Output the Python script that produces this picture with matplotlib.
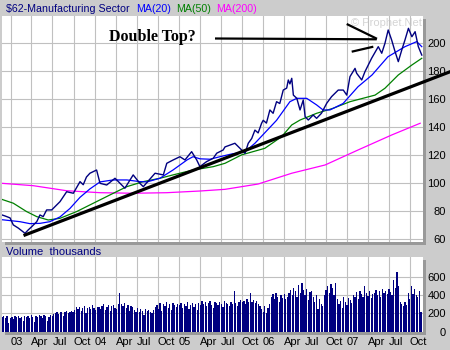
import matplotlib
matplotlib.use('Agg')
import matplotlib.pyplot as plt
import pandas as pd
from matplotlib.patches import Rectangle
from matplotlib.lines import Line2D

plt.rcParams['font.family'] = ['Liberation Sans', 'DejaVu Sans']

# weekly closes of the sector index, sampled at the swing points
price_dates = ['2002-11-24', '2002-12-07', '2002-12-29',
               '2003-01-12', '2003-02-03', '2003-03-04', '2003-03-18', '2003-04-02', '2003-04-24', '2003-05-08',
               '2003-05-22', '2003-06-06', '2003-06-28', '2003-07-12', '2003-08-03', '2003-09-01', '2003-09-30',
               '2003-10-29', '2003-11-12', '2003-11-26', '2003-12-11',
               '2004-01-09', '2004-01-24', '2004-02-22', '2004-03-29', '2004-04-20', '2004-05-11', '2004-06-16',
               '2004-07-15', '2004-07-30', '2004-09-19', '2004-10-25', '2004-11-09', '2004-12-07',
               '2005-01-05', '2005-01-27', '2005-02-25', '2005-03-19', '2005-04-02', '2005-05-01', '2005-05-30',
               '2005-06-14', '2005-07-12', '2005-07-20', '2005-09-01', '2005-09-23', '2005-10-15', '2005-10-29',
               '2005-11-13', '2005-11-27', '2005-12-11', '2005-12-26',
               '2006-01-02', '2006-01-16', '2006-01-31', '2006-02-14', '2006-03-01', '2006-03-15', '2006-03-30',
               '2006-04-14', '2006-04-21', '2006-04-28', '2006-05-06', '2006-05-13',
               '2006-05-28', '2006-06-11', '2006-06-25', '2006-07-03', '2006-07-17', '2006-08-07', '2006-08-22',
               '2006-09-12', '2006-10-05', '2006-10-26', '2006-11-24', '2006-12-16', '2006-12-31',
               '2007-01-14', '2007-02-05', '2007-02-12', '2007-03-06', '2007-03-20', '2007-04-18', '2007-05-17',
               '2007-06-01', '2007-06-15', '2007-06-29', '2007-07-14', '2007-07-29', '2007-08-12', '2007-08-27',
               '2007-09-10', '2007-09-25', '2007-10-10', '2007-10-24', '2007-11-07', '2007-11-22']
price = [77.4, 76.7, 75.3,
         70.3, 68.0, 64.3, 66.7, 69.0, 72.6, 77.4, 76.2, 81.0, 81.0, 83.3, 86.9, 94.0, 92.9, 101.2, 99.0,
         104.5, 107.2,
         109.5, 100.0, 98.8, 103.6, 100.0, 96.5, 106.0, 100.0, 97.6, 107.2, 106.0, 114.3, 116.7,
         119.0, 116.7, 122.6, 116.7, 111.9, 115.5, 117.9, 121.5, 123.8, 126.0, 128.6, 125.0, 121.4, 128.6,
         132.0, 138.0, 136.0, 142.9,
         145.0, 143.0, 152.4, 150.0, 158.3, 157.0, 166.6, 168.0, 173.8, 171.0,
         175.0, 163.0, 160.7, 152.4, 159.5, 147.6, 145.2, 148.8, 146.4,
         150.0, 157.2, 161.9, 166.6, 166.6, 163.0,
         176.2, 182.1, 178.6, 173.8, 179.7, 189.3, 197.6, 192.9, 200.0, 209.5, 202.4, 194.0, 186.9, 195.2,
         202.4, 210.7, 204.7, 208.3, 197.6, 191.6]

ma20_dates = ['2002-11-24', '2003-02-10', '2003-03-25', '2003-05-08', '2003-06-20', '2003-08-03', '2003-09-15',
              '2003-10-29', '2003-12-11', '2004-01-24', '2004-03-20', '2004-05-20', '2004-07-15', '2004-08-15',
              '2004-10-10', '2004-12-06', '2005-02-05', '2005-03-03', '2005-04-02', '2005-05-16', '2005-06-28',
              '2005-08-19', '2005-10-15', '2005-11-27', '2006-03-01', '2006-04-28', '2006-05-28', '2006-07-10',
              '2006-08-22', '2006-09-19', '2006-10-19', '2006-12-15', '2007-02-18', '2007-04-20', '2007-06-28',
              '2007-09-10', '2007-10-31', '2007-11-22']
ma20 = [74.0, 72.6, 71.2, 71.4, 72.6, 76.0, 82.0, 90.0, 96.0, 101.0, 102.4, 102.4, 101.2, 101.0, 103.6, 109.5,
        116.7, 119.0, 117.5, 117.2, 119.0, 121.0, 122.6, 128.6, 145.0, 158.3, 160.7, 160.7, 156.0, 152.4, 152.4,
        157.0, 169.0, 177.4, 190.4, 197.6, 201.2, 197.6]

ma50_dates = ['2002-11-24', '2003-01-12', '2003-03-11', '2003-04-24', '2003-06-13', '2003-08-03', '2003-10-14',
              '2003-12-26', '2004-03-07', '2004-05-19', '2004-07-30', '2004-10-10', '2004-12-06', '2005-03-03',
              '2005-05-30', '2005-07-20', '2005-09-30', '2006-01-09', '2006-03-23', '2006-05-06', '2006-06-11',
              '2006-08-22', '2006-11-02', '2007-01-14', '2007-03-27', '2007-05-03', '2007-06-15', '2007-08-12',
              '2007-10-10', '2007-11-22']
ma50 = [88.5, 85.8, 79.8, 76.2, 73.8, 75.0, 79.8, 85.8, 91.7, 97.6, 101.2, 103.6, 106.0, 109.5, 111.9, 114.3,
        120.3, 125.0, 133.3, 141.7, 145.2, 150.0, 153.6, 158.3, 161.4, 163.0, 167.9, 177.4, 184.5, 189.3]

ma200_dates = ['2002-11-24', '2003-04-09', '2003-09-01', '2004-01-24', '2004-06-16', '2004-11-09', '2005-04-02',
               '2005-07-20', '2005-12-11', '2006-05-06', '2006-09-28', '2007-02-18', '2007-07-14', '2007-11-15']
ma200 = [100.0, 98.3, 94.7, 93.3, 92.9, 93.3, 94.5, 95.7, 99.5, 107.2, 113.1, 123.8, 134.5, 142.9]

# hand drawn support line under the lows
trend_dates = ['2003-03-04', '2008-03-24']
trend = [63.1, 179.7]

# weekly volume, thousands of shares
volume_start = '2002-11-25'
volume = [160, 170, 150, 175, 100, 155, 165, 140, 170, 160, 175, 150, 165, 120, 170, 160,
          175, 150, 180, 165, 110, 170, 160, 185, 175, 150, 180, 170, 120, 165, 185, 175, 190,
          205, 215, 190, 220, 210, 170, 215, 225, 200, 210, 230, 215,
          240, 265, 250, 275, 230, 260, 280, 200, 255, 270, 245, 290, 260, 235, 275,
          270, 250, 285, 300, 240, 275, 290, 230, 280, 295, 260, 250, 300, 420,
          300, 280, 310, 260, 290, 230, 285, 270,
          240, 220, 255, 210, 245, 230, 180, 250, 225, 240, 215, 200, 235,
          270, 290, 250, 310, 230, 300, 280, 320, 260, 300, 240, 310, 290, 270, 305,
          290, 310, 260, 300, 280, 320, 250, 295, 310, 270, 300, 240, 315, 290,
          335, 300, 320, 280, 310, 340, 295, 260, 325, 310, 290, 330, 300, 270, 340, 310,
          300, 280, 320, 300, 440, 310, 280,
          330, 350, 320, 340, 300, 360, 320, 425, 330, 350, 310, 340, 300, 280,
          250, 220, 280, 200, 260, 300,
          380, 410, 360, 420, 380, 330, 400, 370, 410, 360, 380, 420,
          460, 400, 480, 440, 380, 510, 420, 530, 460, 400, 470, 350, 430, 450, 380,
          320, 400, 250, 360, 300, 280, 400,
          460, 500, 420, 520, 480, 400, 530,
          360, 300, 340, 260, 380, 330, 290, 370, 350, 310,
          400, 380, 430, 360, 440, 410, 380, 500, 420, 390, 440, 370, 410,
          420, 460, 400, 440, 380, 470, 420, 450, 410, 470, 430, 400,
          560, 480, 650, 500,
          320, 300, 280, 330, 290,
          420, 360, 500, 410, 470, 400, 380, 440, 220]

price_ticks = [60, 80, 100, 120, 140, 160, 180, 200]
volume_ticks = [0, 200, 400, 600]
quarters = pd.date_range('2003-01-01', '2007-10-01', freq='QS')
quarter_labels = [d.strftime('%y') if d.month == 1 else d.strftime('%b') for d in quarters]

NAVY = '#000080'
BG = '#cccccc'
GRID = '#c0c0c0'
W, H = 450, 350


def box(x0, y0, x1, y1):
    # pixel box (from top-left) -> figure rectangle
    return [x0 / W, 1 - y1 / H, (x1 - x0) / W, (y1 - y0) / H]


def px(x, y):
    return x / W, 1 - y / H


fig = plt.figure(figsize=(4.5, 3.5), dpi=100, facecolor=BG)

main_box = (2, 16, 422.7, 241.7)
vol_box = (2, 257.3, 422.7, 331.7)

# dark drop shadow behind both panels
for x0, y0, x1, y1 in (main_box, vol_box):
    fig.add_artist(Rectangle(px(x0 + 3, y1 + 3), (x1 - x0) / W, (y1 - y0) / H, transform=fig.transFigure,
                             facecolor='#999999', edgecolor='none', zorder=-1))

ax = fig.add_axes(box(*main_box))
axv = fig.add_axes(box(*vol_box), sharex=ax)

for a in (ax, axv):
    a.set_facecolor('white')
    for s in a.spines.values():
        s.set_visible(False)
    a.set_axisbelow(True)
    a.grid(True, color=GRID, lw=0.8)

ax.plot(pd.to_datetime(ma200_dates), ma200, color='#ff00ff', lw=0.9)
ax.plot(pd.to_datetime(ma50_dates), ma50, color='#008000', lw=0.9)
ax.plot(pd.to_datetime(ma20_dates), ma20, color='#0000ff', lw=0.9)
ax.plot(pd.to_datetime(price_dates), price, color=NAVY, lw=1.0)
ax.plot(pd.to_datetime(trend_dates), trend, color='black', lw=2.3, clip_on=False, zorder=5)

ax.text(0.9976, 0.955, '\u00a9 Prophet.Net', transform=ax.transAxes, ha='right', va='baseline',
        fontsize=8, color='#d4d4d4', zorder=0.5)

ax.set_xlim(pd.Timestamp('2002-11-24'), pd.Timestamp('2007-11-26'))
ax.set_ylim(58.3, 219.5)
ax.set_xticks(quarters)
ax.tick_params(axis='x', length=0, labelbottom=False)
ax.set_yticks(price_ticks)
ax.tick_params(axis='y', length=0, labelleft=False, labelright=True, labelsize=8, pad=16.8)
for lbl in ax.get_yticklabels():
    lbl.set_horizontalalignment('right')

vol_dates = pd.date_range(volume_start, periods=len(volume), freq='7D')
axv.bar(vol_dates, volume, width=5.5, color=NAVY, linewidth=0, antialiased=False)
axv.set_ylim(0, 813)
axv.set_yticks(volume_ticks)
axv.tick_params(axis='y', length=0, labelleft=False, labelright=True, labelsize=8, pad=16.8)
for lbl in axv.get_yticklabels():
    lbl.set_horizontalalignment('right')
axv.set_xticks(quarters)
axv.set_xticklabels(quarter_labels, ha='left')
axv.tick_params(axis='x', length=0, labelsize=8, pad=4)

# panel headers
fig.text(*px(6, 12), '$62-Manufacturing Sector', color=NAVY, fontsize=7.7, va='baseline')
fig.text(*px(135.7, 12), 'MA(20)', color='#0000ff', fontsize=7.7, va='baseline')
fig.text(*px(175.7, 12), 'MA(50)', color='#008000', fontsize=7.7, va='baseline')
fig.text(*px(216, 12), 'MA(200)', color='#ff00ff', fontsize=7.7, va='baseline')
fig.text(*px(6, 255), 'Volume  thousands', color=NAVY, fontsize=8, va='baseline')

# "Double Top?" note with its arrow
fig.text(*px(109, 40.7), 'Double Top?', family=['Liberation Serif', 'DejaVu Serif'], fontweight='bold',
         fontsize=11.5, va='baseline', color='black')
for (x0, y0), (x1, y1) in [((215, 38.5), (376.7, 39.3)),
                           ((346.7, 24), (377, 38.8)),
                           ((351.7, 51.7), (373.3, 46.7))]:
    fig.add_artist(Line2D([x0 / W, x1 / W], [1 - y0 / H, 1 - y1 / H], transform=fig.transFigure,
                          color='black', lw=1.6, solid_capstyle='butt'))

fig.savefig('out.png', dpi=100, facecolor=BG)
